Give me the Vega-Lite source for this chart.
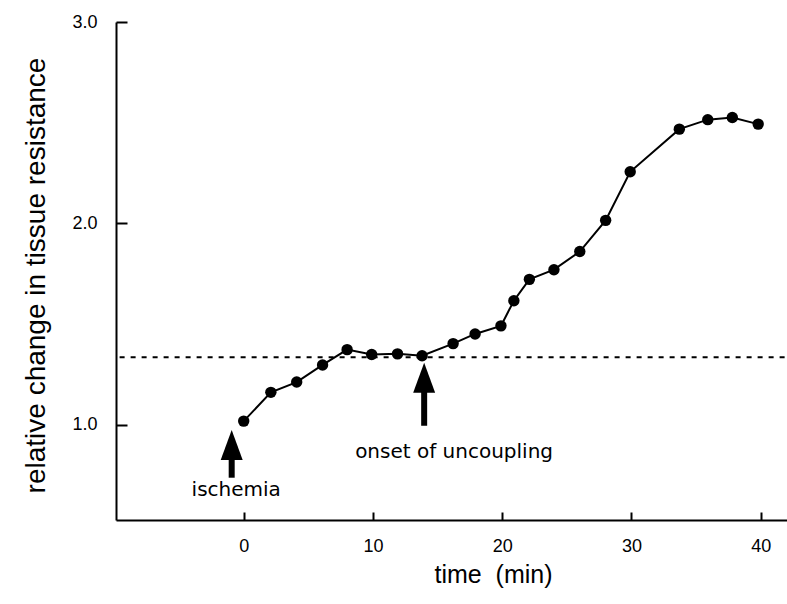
{
  "$schema": "https://vega.github.io/schema/vega-lite/v6.json",
  "width": 671,
  "height": 498,
  "autosize": {"type": "none"},
  "padding": {"left": 116, "top": 22, "right": 0, "bottom": 84},
  "background": "white",
  "config": {
    "view": {"stroke": null},
    "axis": {
      "grid": false,
      "domainColor": "black",
      "domainWidth": 2,
      "tickColor": "black",
      "tickWidth": 2,
      "labelColor": "black",
      "titleColor": "black",
      "labelFont": "Liberation Sans",
      "titleFont": "Liberation Sans",
      "titleFontWeight": "normal",
      "labelOverlap": false
    }
  },
  "datasets": {
    "series": [
      {"t": 0, "v": 1.018},
      {"t": 2.1, "v": 1.161},
      {"t": 4.1, "v": 1.212},
      {"t": 6.1, "v": 1.297},
      {"t": 8.0, "v": 1.373},
      {"t": 9.9, "v": 1.349},
      {"t": 11.9, "v": 1.352},
      {"t": 13.8, "v": 1.343},
      {"t": 16.2, "v": 1.403},
      {"t": 17.9, "v": 1.451},
      {"t": 19.9, "v": 1.491},
      {"t": 20.9, "v": 1.616},
      {"t": 22.1, "v": 1.722},
      {"t": 24.0, "v": 1.770},
      {"t": 26.0, "v": 1.860},
      {"t": 28.0, "v": 2.015},
      {"t": 29.9, "v": 2.256},
      {"t": 33.7, "v": 2.468},
      {"t": 35.9, "v": 2.515},
      {"t": 37.8, "v": 2.526},
      {"t": 39.8, "v": 2.493}
    ],
    "baseline": [{"t": -9.6, "t2": 42.03, "v": 1.335}],
    "arrows": [
      {"t": -0.93, "tip": 0.971, "v": 0.90, "v2": 0.737},
      {"t": 13.96, "tip": 1.306, "v": 1.234, "v2": 0.995}
    ],
    "labels": [
      {"t": -0.58, "v": 0.645, "label": "ischemia", "align": "center"},
      {"t": 8.62, "v": 0.835, "label": "onset of uncoupling", "align": "left"}
    ]
  },
  "encoding": {
    "x": {
      "field": "t",
      "type": "quantitative",
      "scale": {"domain": [-9.88, 42.03], "nice": false, "zero": false},
      "axis": {
        "values": [0, 10, 20, 30, 40],
        "tickSize": -8,
        "labelPadding": 25,
        "labelFontSize": 18,
        "title": "time\u00a0\u00a0(min)",
        "titleFontSize": 25,
        "titleX": 377,
        "titleY": 54,
        "titleBaseline": "middle",
        "titleAlign": "center"
      }
    },
    "y": {
      "field": "v",
      "type": "quantitative",
      "scale": {"domain": [0.527, 3.0], "nice": false, "zero": false},
      "axis": {
        "values": [1, 2, 3],
        "format": ".1f",
        "tickSize": -11,
        "labelPadding": 30,
        "labelFontSize": 18,
        "title": "relative change in tissue resistance",
        "titleFontSize": 28,
        "titleX": -80,
        "titleY": 253,
        "titleAngle": -90,
        "titleBaseline": "middle",
        "titleAlign": "center"
      }
    }
  },
  "layer": [
    {
      "data": {"name": "baseline"},
      "mark": {"type": "rule", "color": "black", "strokeWidth": 2, "strokeDash": [5, 6]},
      "encoding": {"x2": {"field": "t2"}}
    },
    {
      "data": {"name": "series"},
      "mark": {"type": "line", "color": "black", "strokeWidth": 2}
    },
    {
      "data": {"name": "series"},
      "mark": {"type": "circle", "color": "black", "size": 130, "opacity": 1}
    },
    {
      "data": {"name": "arrows"},
      "mark": {"type": "rule", "color": "black", "strokeWidth": 6, "strokeCap": "butt"},
      "encoding": {"y2": {"field": "v2"}}
    },
    {
      "data": {"name": "arrows"},
      "mark": {"type": "point", "shape": "M0,-1L0.733,1L-0.733,1Z", "size": 900, "filled": true, "color": "black", "opacity": 1, "strokeWidth": 0}
    },
    {
      "data": {"name": "labels"},
      "transform": [{"filter": "datum.align === 'center'"}],
      "mark": {"type": "text", "font": "DejaVu Sans", "fontSize": 20, "align": "center", "baseline": "alphabetic", "color": "black"},
      "encoding": {"text": {"field": "label"}}
    },
    {
      "data": {"name": "labels"},
      "transform": [{"filter": "datum.align === 'left'"}],
      "mark": {"type": "text", "font": "DejaVu Sans", "fontSize": 20, "align": "left", "baseline": "alphabetic", "color": "black"},
      "encoding": {"text": {"field": "label"}}
    }
  ]
}
